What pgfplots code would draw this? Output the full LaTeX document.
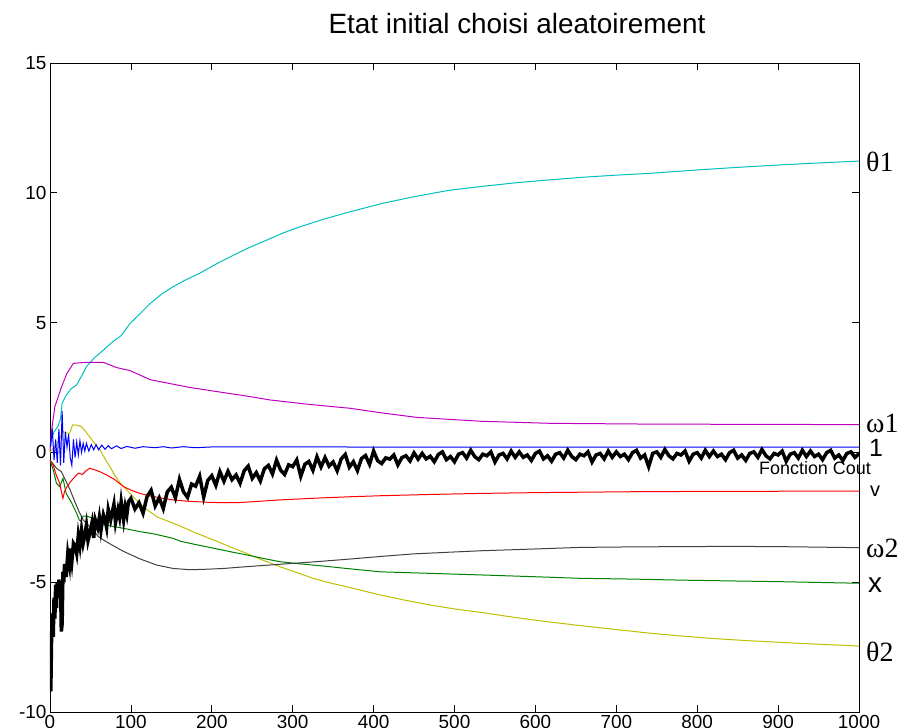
\documentclass[border=0pt]{standalone}
\usepackage{fontspec}
\setmainfont{Liberation Sans}
\newfontfamily\timesf{Liberation Serif}
\usepackage{pgfplots}
\pgfplotsset{compat=1.18}

\definecolor{mc}{HTML}{00BFBF}
\definecolor{mm}{HTML}{BF00BF}
\definecolor{my}{HTML}{BFBF00}
\definecolor{mg}{HTML}{008000}
\definecolor{mk}{HTML}{404040}

\begin{document}
\begin{tikzpicture}
\path[use as bounding box] (-50bp,-16bp) rectangle (853bp,712bp);
\begin{axis}[at={(0,0)},anchor=south west,scale only axis,
  width=809bp,height=649bp,
  xmin=0,xmax=1000,ymin=-10,ymax=15,
  xtick={0,100,...,1000},ytick={-10,-5,0,5,10,15},
  tick align=inside,major tick length=7bp,
  axis line style={line width=0.8bp},
  every tick/.style={line width=0.8bp,black},
  ticklabel style={font=\fontsize{19}{20}\selectfont},
  /pgf/number format/assume math mode=true,
  /pgf/number format/1000 sep={},
  clip=true]
% theta1
\addplot[mc,line width=1bp] coordinates {(0,0) (2,0.5) (5,0.8) (10,1.0) (13,1.3) (15,1.9) (20,2.2) (26,2.45) (33,2.6) (40,3.0) (45,3.3) (55,3.65) (66,3.94) (77,4.25) (88,4.5) (99,4.97) (110,5.3) (124,5.74) (138,6.1) (152,6.38) (168,6.65) (185,6.9) (205,7.25) (227,7.6) (247,7.9) (268,8.18) (288,8.45) (309,8.69) (340,9.0) (371,9.27) (412,9.6) (450,9.85) (494,10.1) (535,10.25) (577,10.39) (618,10.5) (659,10.6) (700,10.68) (742,10.75) (800,10.88) (850,10.98) (900,11.07) (950,11.15) (1000,11.22)};
% omega1
\addplot[mm,line width=1bp] coordinates {(0,0) (2,0.86) (6,1.76) (14,2.5) (21,3.05) (29,3.43) (45,3.47) (66,3.47) (82,3.27) (99,3.15) (124,2.8) (173,2.5) (247,2.15) (272,2.02) (320,1.85) (371,1.70) (408,1.53) (453,1.35) (532,1.2) (618,1.12) (742,1.09) (1000,1.07)};
% theta2
\addplot[my,line width=1bp] coordinates {(0,0) (4,0.15) (8,0.28) (12,0.55) (16,0.8) (20,0.75) (24,0.73) (28,1.06) (33,1.05) (39,0.99) (44,0.8) (49,0.6) (55,0.35) (62,0.09) (68,-0.25) (74,-0.55) (80,-0.88) (87,-1.19) (95,-1.45) (103,-1.71) (115,-2.09) (132,-2.48) (150,-2.7) (161,-2.84) (180,-3.1) (202,-3.37) (222,-3.63) (243,-3.89) (263,-4.15) (284,-4.4) (305,-4.63) (325,-4.85) (345,-5.02) (366,-5.17) (387,-5.33) (408,-5.49) (440,-5.7) (470,-5.88) (500,-6.03) (532,-6.16) (573,-6.35) (614,-6.52) (655,-6.67) (696,-6.81) (737,-6.95) (779,-7.07) (820,-7.17) (861,-7.25) (930,-7.36) (1000,-7.46)};
% x
\addplot[mg,line width=1bp] coordinates {(0,-0.3) (4,-0.68) (8,-1.19) (12,-1.32) (16,-1.0) (20,-1.58) (27,-1.96) (33,-2.35) (36,-2.6) (38,-2.65) (41,-2.45) (45,-2.45) (50,-2.5) (58,-2.62) (70,-2.8) (83,-2.88) (95,-2.95) (111,-3.05) (130,-3.15) (152,-3.31) (161,-3.42) (180,-3.55) (202,-3.69) (222,-3.82) (243,-3.95) (263,-4.08) (284,-4.21) (305,-4.28) (325,-4.34) (345,-4.4) (366,-4.47) (408,-4.6) (470,-4.66) (532,-4.72) (600,-4.79) (655,-4.85) (720,-4.88) (779,-4.92) (840,-4.95) (902,-4.98) (1000,-5.04)};
% omega2
\addplot[mk,line width=1bp] coordinates {(0,-0.3) (4,-0.45) (8,-0.61) (14,-0.74) (18,-1.0) (25,-1.45) (29,-1.77) (35,-2.22) (41,-2.6) (49,-2.85) (60,-3.25) (70,-3.45) (90,-3.8) (111,-4.1) (132,-4.34) (152,-4.47) (173,-4.52) (194,-4.5) (215,-4.47) (235,-4.42) (284,-4.31) (325,-4.22) (366,-4.12) (408,-4.01) (449,-3.91) (490,-3.85) (532,-3.79) (600,-3.72) (655,-3.66) (720,-3.64) (779,-3.63) (840,-3.62) (902,-3.63) (1000,-3.67)};
% v
\addplot[red,line width=1bp] coordinates {(0,-0.3) (4,-0.5) (8,-0.9) (12,-1.19) (14,-1.5) (16,-1.77) (18,-1.5) (21,-1.32) (25,-1.15) (29,-1.0) (35,-0.8) (40,-0.85) (45,-0.7) (49,-0.61) (53,-0.65) (56,-0.68) (62,-0.75) (70,-0.87) (80,-1.05) (91,-1.32) (100,-1.45) (111,-1.58) (124,-1.68) (138,-1.76) (152,-1.83) (170,-1.88) (194,-1.92) (215,-1.94) (235,-1.93) (260,-1.88) (284,-1.83) (330,-1.76) (370,-1.71) (408,-1.67) (470,-1.62) (532,-1.58) (600,-1.55) (670,-1.53) (737,-1.51) (850,-1.5) (1000,-1.49)};
% 1
\addplot[blue,line width=1bp] coordinates {(0,0.2) (3,0.8) (5,-0.3) (7,0.5) (9,-0.4) (11,0.9) (13,-0.5) (15,1.6) (17,-0.4) (19,0.8) (21,0.2) (23,0.7) (25,-0.2) (27,-0.5) (29,0.5) (31,-0.2) (33,0.4) (35,-0.1) (37,0.45) (39,0.0) (41,0.35) (43,0.05) (45,0.35) (48,0.05) (51,0.3) (54,0.1) (57,0.3) (60,0.1) (64,0.28) (68,0.12) (72,0.26) (76,0.14) (82,0.25) (88,0.15) (95,0.23) (105,0.16) (115,0.22) (130,0.18) (140,0.22) (150,0.17) (165,0.22) (180,0.18) (200,0.21) (1000,0.2)};
% Fonction Cout
\addplot[black,line width=3.5bp] coordinates {(0,-8.6) (1,-9.2) (2,-7.0) (3,-6.2) (4,-7.1) (5,-5.6) (6,-6.4) (7,-5.1) (8,-6.0) (9,-5.0) (10,-5.6) (11,-4.9) (12,-5.3) (13,-5.0) (14,-6.9) (15,-6.6) (16,-4.6) (17,-5.0) (18,-4.3) (20,-4.8) (22,-3.9) (24,-4.3) (25,-3.7) (27,-4.2) (29,-3.5) (31,-3.6) (33,-3.9) (35,-3.2) (37,-3.6) (39,-3.0) (41,-3.5) (43,-3.2) (45,-2.8) (47,-3.4) (50,-3.0) (52,-2.7) (54,-3.3) (56,-2.6) (59,-2.9) (61,-2.5) (63,-3.0) (66,-2.4) (68,-2.6) (70,-2.9) (72,-2.2) (75,-2.6) (77,-2.3) (79,-2.0) (81,-2.7) (84,-2.2) (86,-2.5) (88,-1.9) (91,-2.6) (93,-2.1) (95,-2.4) (97,-1.9)
(100,-1.77) (105,-2.18) (110,-1.94) (115,-2.34) (120,-1.70) (125,-1.46) (130,-2.06) (135,-1.75) (140,-2.16) (145,-1.52) (150,-1.34) (155,-1.75) (160,-1.04) (165,-1.52) (170,-1.73) (175,-1.22) (180,-1.30) (185,-0.92) (190,-1.72) (195,-1.08) (200,-0.90)
(205,-1.27) (210,-0.74) (215,-1.11) (220,-0.73) (225,-1.05) (230,-0.87) (235,-1.19) (240,-0.71) (245,-0.53) (250,-1.00) (255,-0.78) (260,-1.10) (265,-0.63) (270,-0.50) (275,-0.83) (280,-0.30) (285,-0.68) (290,-0.85) (295,-0.48) (300,-0.55)
(305,-0.29) (310,-0.92) (315,-0.46) (320,-0.35) (325,-0.69) (330,-0.17) (335,-0.56) (340,-0.20) (345,-0.53) (350,-0.37) (355,-0.71) (360,-0.25) (365,-0.08) (370,-0.57) (375,-0.36) (380,-0.70) (385,-0.24) (390,-0.12) (395,-0.46) (400,0.05)
(405,-0.32) (410,-0.43) (415,-0.21) (420,-0.26) (425,-0.10) (430,-0.48) (435,-0.20) (440,-0.13) (445,-0.33) (450,-0.02) (455,-0.26) (460,-0.04) (465,-0.25) (470,-0.15) (475,-0.36) (480,-0.08) (485,0.02) (490,-0.28) (495,-0.16) (500,-0.36)
(505,-0.07) (510,-0.01) (515,-0.22) (520,0.08) (525,-0.16) (530,-0.28) (535,-0.07) (540,-0.13) (545,0.02) (550,-0.37) (555,-0.10) (560,-0.04) (565,-0.25) (570,0.05) (575,-0.19) (580,0.02) (585,-0.19) (590,-0.10) (595,-0.31) (600,-0.04)
(605,0.05) (610,-0.25) (615,-0.13) (620,-0.34) (625,-0.07) (630,-0.01) (635,-0.22) (640,0.08) (645,-0.16) (650,-0.28) (655,-0.07) (660,-0.13) (665,0.02) (670,-0.37) (675,-0.10) (680,-0.04) (685,-0.25) (690,0.05) (695,-0.19) (700,0.02)
(705,-0.16) (710,-0.07) (715,-0.28) (720,-0.01) (725,0.08) (730,-0.22) (735,-0.10) (740,-0.55) (745,-0.04) (750,0.02) (755,-0.19) (760,0.11) (765,-0.13) (770,-0.25) (775,-0.04) (780,-0.10) (785,0.05) (790,-0.34) (795,-0.07) (800,-0.01)
(805,-0.22) (810,0.08) (815,-0.16) (820,0.05) (825,-0.16) (830,-0.07) (835,-0.28) (840,-0.01) (845,0.08) (850,-0.22) (855,-0.10) (860,-0.31) (865,-0.04) (870,0.02) (875,-0.19) (880,0.11) (885,-0.13) (890,-0.25) (895,-0.04) (900,-0.10)
(905,0.05) (910,-0.34) (915,-0.07) (920,-0.01) (925,-0.22) (930,0.08) (935,-0.16) (940,0.05) (945,-0.16) (950,-0.07) (955,-0.28) (960,-0.01) (965,0.08) (970,-0.22) (975,-0.10) (980,-0.31) (985,-0.04) (990,0.02) (995,-0.19) (1000,-0.05)};
\end{axis}
\node[anchor=base,font=\fontsize{28}{30}\selectfont,inner sep=0pt] at (467bp,678bp) {Etat initial choisi aleatoirement};
\node[anchor=west,inner sep=0pt,font=\timesf\fontsize{28}{30}\selectfont] at (816bp,550bp) {θ1};
\node[anchor=west,inner sep=0pt,font=\timesf\fontsize{28}{30}\selectfont] at (816bp,289bp) {ω1};
\node[anchor=west,inner sep=0pt,font=\fontsize{25}{26}\selectfont] at (819bp,264bp) {1};
\node[inner sep=0pt,font=\fontsize{18}{19}\selectfont] at (765bp,244bp) {Fonction Cout};
\node[anchor=west,inner sep=0pt,font=\fontsize{20}{21}\selectfont] at (820bp,221bp) {v};
\node[anchor=west,inner sep=0pt,font=\timesf\fontsize{28}{30}\selectfont] at (816bp,164bp) {ω2};
\node[anchor=west,inner sep=0pt,font=\fontsize{28}{30}\selectfont] at (818bp,127bp) {x};
\node[anchor=west,inner sep=0pt,font=\timesf\fontsize{28}{30}\selectfont] at (816bp,60bp) {θ2};
\end{tikzpicture}
\end{document}
